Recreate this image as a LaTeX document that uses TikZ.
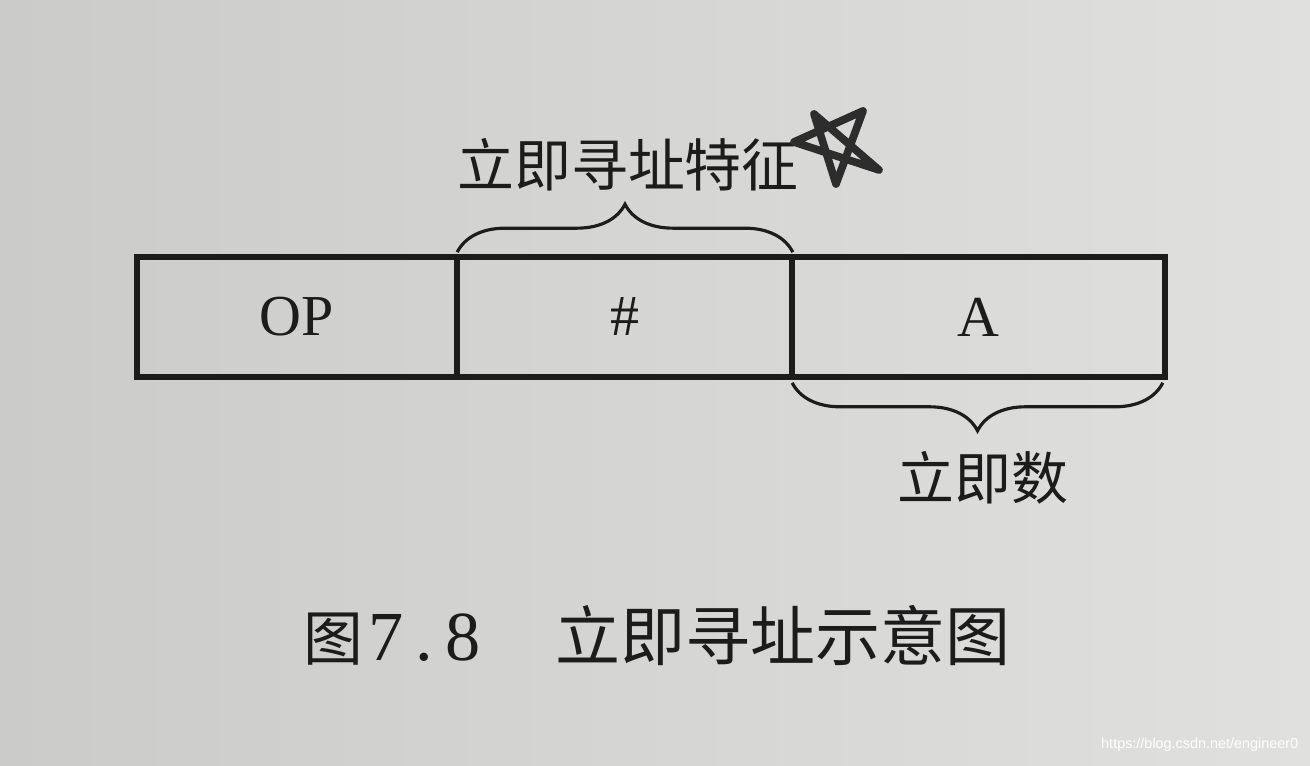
\documentclass[tikz,border=0pt]{standalone}
\usepackage{fontspec}
\setmainfont{Liberation Serif}
\newfontfamily\cjk{Noto Sans CJK SC}
\newfontfamily\wmfont{Liberation Sans}
\usetikzlibrary{decorations.pathreplacing}
\definecolor{paperL}{RGB}{203,203,201}
\definecolor{paperR}{RGB}{224,224,222}
\definecolor{ink}{RGB}{28,28,28}
\definecolor{pen}{RGB}{45,45,45}
\tikzset{
  cell/.style={draw=ink, line width=1.6pt, minimum height=1.2cm, inner sep=0pt, text=ink,
    font=\fontsize{16.5}{18}\selectfont},
  bracepath/.style={draw=ink, line width=0.9pt, decorate,
    decoration={brace, amplitude=0.48cm, aspect=0.5}},
  label/.style={text=ink, inner sep=0pt, font=\cjk\fontsize{16.2}{18}\selectfont},
}
\begin{document}
\begin{tikzpicture}[x=1cm,y=1cm]
\useasboundingbox (0,0) rectangle (13.10,-7.66);
\shade[left color=paperL, right color=paperR] (0,0) rectangle (13.10,-7.66);

% instruction fields
\node[cell, minimum width=3.20cm] (op) at (2.97,-3.17) {OP};
\node[cell, minimum width=3.35cm] (hash) at (6.245,-3.17) {\#};
\node[cell, minimum width=3.73cm] (a) at (9.785,-3.17) {A};

% braces
\draw[bracepath] ([xshift=0.03cm,yshift=0.02cm]hash.north west) -- ([xshift=-0.02cm,yshift=0.02cm]hash.north east)
  coordinate[pos=0.5] (tipTop);
\draw[bracepath] ([xshift=-0.05cm,yshift=-0.03cm]a.south east) -- ([xshift=0.03cm,yshift=-0.03cm]a.south west)
  coordinate[pos=0.5] (tipBot);

% labels
\node[label] (feat) at (6.28,-1.65) {立即寻址特征};
\node[label] (imm) at (9.83,-4.78) {立即数};

% hand-drawn star
\draw[pen, line width=2.2pt, line join=round, line cap=round]
  (8.14,-1.14) -- (8.79,-1.70) -- (7.94,-1.42) -- (8.63,-1.11) -- (8.36,-1.84) -- cycle;

% caption
\node[text=ink, anchor=west, inner sep=0pt] (cap) at (3.03,-6.36)
  {{\cjk\fontsize{17}{19}\selectfont 图}\hspace{0.05cm}{\fontsize{20}{22}\selectfont 7\hspace{0.12cm}.\hspace{0.12cm}8}\hspace{0.75cm}{\cjk\fontsize{18.5}{20}\selectfont 立即寻址示意图}};

% watermark
\node[text=white, anchor=east, inner sep=0pt, font=\wmfont\fontsize{4.1}{5}\selectfont] (wm) at (12.99,-7.45) {https://blog.csdn.net/engineer0};
\end{tikzpicture}
\end{document}
